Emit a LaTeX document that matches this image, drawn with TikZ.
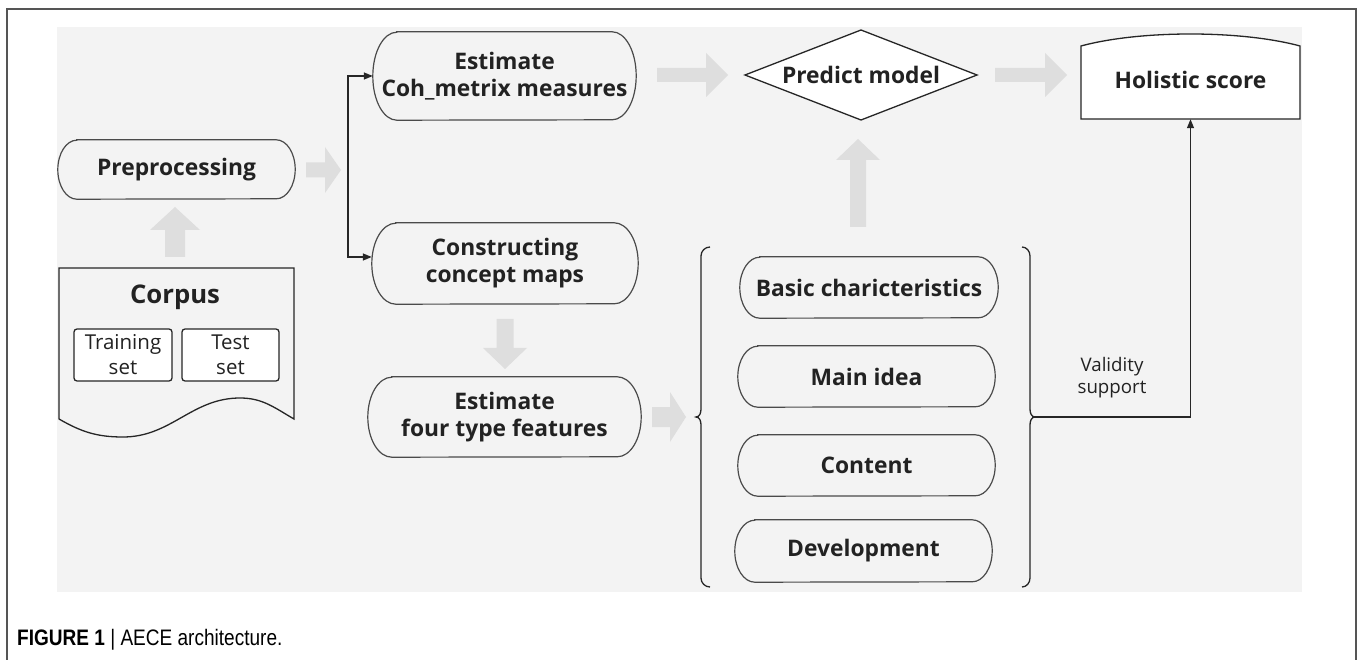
\documentclass[tikz,border=0pt]{standalone}
\usepackage{fontspec}
\setmainfont{Open Sans}
\newfontfamily\capfont{Liberation Sans}[FakeStretch=0.85]
\usetikzlibrary{arrows.meta}
\definecolor{bggray}{HTML}{F3F3F3}
\definecolor{arrgray}{HTML}{DEDEDE}
\definecolor{linegray}{HTML}{4A4A4A}
\definecolor{txt}{HTML}{222222}
\definecolor{framegray}{HTML}{555555}
\newcommand\pillpath[3]{%
  \draw[pilline] ([xshift=#2]#1.north west) -- ([xshift=-#2]#1.north east)
    arc[start angle=90,end angle=-90,x radius=#2,y radius=#3]
    -- ([xshift=#2]#1.south west)
    arc[start angle=270,end angle=90,x radius=#2,y radius=#3] -- cycle;}
\begin{document}
\begin{tikzpicture}[x=1pt,y=-1pt,
  mainfont/.style={font=\bfseries\fontsize{22.8}{27}\selectfont, text=txt},
  pillbox/.style={mainfont, rectangle, inner sep=0, align=center},
  pilline/.style={draw=linegray, line width=1.2pt},
  shapeline/.style={draw=black!85, line width=1.3pt, fill=white},
  conn/.style={draw=black!85, line width=1.3pt, -{Triangle[length=9pt,width=7pt]}},
  blockarrow/.style={fill=arrgray, draw=none},
  smallbox/.style={draw=black!85, line width=1.3pt, fill=white, rounded corners=3pt, inner sep=0,
    font=\fontsize{20.5}{25}\selectfont, text=txt, align=center},
  bracestyle/.style={draw=black!85, line width=1.3pt}
]
\useasboundingbox (0,0) rectangle (1358,660);
% background
\fill[bggray] (57,27) rectangle (1302,592);
\draw[framegray, line width=1.5pt] (7,662) -- (7,9) -- (1356,9) -- (1356,662);

% block arrows
\fill[blockarrow] (306,162.5) -- (325,162.5) -- (325,147) -- (341,170) -- (325,193) -- (325,177.5) -- (306,177.5) -- cycle;
\fill[blockarrow] (657,68) -- (706,68) -- (706,53) -- (728,75) -- (706,97) -- (706,82) -- (657,82) -- cycle;
\fill[blockarrow] (995,68) -- (1045,68) -- (1045,53) -- (1067,75) -- (1045,97) -- (1045,82) -- (995,82) -- cycle;
\fill[blockarrow] (652,407) -- (670,407) -- (670,392) -- (686,417) -- (670,442) -- (670,427) -- (652,427) -- cycle;
\fill[blockarrow] (165,257) -- (165,230) -- (150,230) -- (175,207) -- (200,230) -- (185,230) -- (185,257) -- cycle;
\fill[blockarrow] (850,227) -- (850,160) -- (836,160) -- (858,139) -- (880,160) -- (866,160) -- (866,227) -- cycle;
\fill[blockarrow] (496.5,319) -- (496.5,348) -- (483,348) -- (505,369) -- (527,348) -- (513.5,348) -- (513.5,319) -- cycle;

% pill boxes
\node[pillbox, minimum width=237pt, minimum height=59pt] (pre) at (176.5,169.5) {\raisebox{-3pt}{Preprocessing}};
\pillpath{pre}{19pt}{29.5pt}
\node[pillbox, minimum width=263pt, minimum height=88pt] (coh) at (504.5,76) {Estimate\\Coh\_metrix measures};
\pillpath{coh}{24pt}{44pt}
\node[pillbox, minimum width=266pt, minimum height=81pt] (cons) at (505,263.5) {Constructing\\concept maps};
\pillpath{cons}{24pt}{40.5pt}
\node[pillbox, minimum width=273pt, minimum height=80pt] (four) at (504.5,417) {Estimate\\four type features};
\pillpath{four}{24pt}{40pt}
\node[pillbox, minimum width=258pt, minimum height=61pt] (basic) at (869,287.5) {Basic charicteristics};
\pillpath{basic}{20pt}{30.5pt}
\node[pillbox, minimum width=257pt, minimum height=61pt] (mainidea) at (866.5,376.5) {Main idea};
\pillpath{mainidea}{20pt}{30.5pt}
\node[pillbox, minimum width=257pt, minimum height=61pt] (content) at (866.5,465.5) {Content};
\pillpath{content}{20pt}{30.5pt}
\node[pillbox, minimum width=257pt, minimum height=62pt] (dev) at (863.5,551) {\raisebox{-2pt}{Development}};
\pillpath{dev}{20pt}{31pt}

% corpus document
\node[rectangle, inner sep=0, minimum width=235pt, minimum height=151pt] (corpus) at (176.5,343.5) {};
\draw[pilline, line width=1.3pt, draw=black!85] (59,419) -- (59,268) -- (294,268) -- (294,419)
  to[out=150,in=0] (240,398) to[out=180,in=0] (123,437) to[out=180,in=-30] (59,419) -- cycle;
\node[mainfont, font=\bfseries\fontsize{25.7}{30}\selectfont, inner sep=0] (corpustxt) at (175,297) {Corpus};
\node[smallbox, minimum width=98pt, minimum height=52pt] (train) at (123,355) {Training\\set};
\node[smallbox, minimum width=97pt, minimum height=52pt] (test) at (230.5,355) {Test\\set};

% predict model diamond
\draw[shapeline] (745,75) -- (861,30) -- (977,75) -- (861,120) -- cycle;
\node[mainfont, inner sep=0] (pred) at (861,75) {Predict model};

% holistic score
\node[rectangle, inner sep=0, minimum width=219pt, minimum height=73pt] (hol) at (1190.5,82.5) {};
\draw[shapeline] (1081,119) -- (1081,46) .. controls (1140,30) and (1241,30) .. (1300,46) -- (1300,119) -- cycle;
\node[mainfont, inner sep=0] (holtxt) at (1190.5,80) {Holistic score};

% connectors from preprocessing
\coordinate (split) at (348,167);
\draw[conn] (split) |- (coh.west);
\draw[conn] (split) |- ([yshift=6.5pt]cons.west);

% braces
\draw[bracestyle] (710,247) to[out=180,in=90] (701,256) -- (701,409) to[out=-90,in=0] (696,417)
  to[out=0,in=90] (701,425) -- (701,578) to[out=-90,in=180] (710,587);
\draw[bracestyle] (1022,247) to[out=0,in=90] (1030,256) -- (1030,409) to[out=-90,in=180] (1035,417)
  to[out=180,in=90] (1030,425) -- (1030,578) to[out=-90,in=0] (1022,587);
\coordinate (rbt) at (1035,417);
\draw[conn] (rbt) -| (hol.south);
\node[font=\fontsize{18.7}{22}\selectfont, text=txt, align=center, inner sep=0] (valid) at (1112,378) {Validity\\support};

% caption
\node[anchor=west, inner sep=0, font=\capfont\fontsize{22.4}{26}\selectfont, text=black] (cap) at (17,640) {\textbf{FIGURE 1} | AECE architecture.};
\end{tikzpicture}
\end{document}
